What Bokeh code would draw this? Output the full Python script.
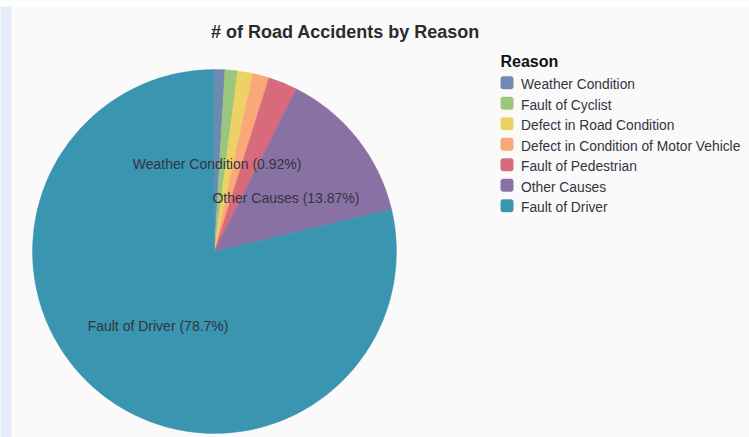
import numpy as np
from bokeh.plotting import figure
from bokeh.models import ColumnDataSource, Label, BoxAnnotation, Range1d
from bokeh.core.properties import value
from bokeh.embed import file_html
from bokeh.resources import INLINE

# ---- data ----
reasons = ["Weather Condition", "Fault of Cyclist", "Defect in Road Condition",
           "Defect in Condition of Motor Vehicle", "Fault of Pedestrian",
           "Other Causes", "Fault of Driver"]
shares = [0.92, 1.12, 1.35, 1.45, 2.59, 13.87, 78.70]
show_label = [True, False, False, False, False, True, True]
colors = ["#7189b1", "#9ac77b", "#ecd264", "#f9a877", "#d86a7b", "#8a71a4", "#3a95b1"]

title_text = "# of Road Accidents by Reason"
legend_title = "Reason"

# ---- layout ----
W, H = 749, 437
FONT = "Liberation Sans"
TXT = "#33343f"
cx, cy_px, R = 214, 251, 182
cy = H - cy_px

p = figure(width=W, height=H, x_range=Range1d(0, W), y_range=Range1d(0, H),
           output_backend="svg", toolbar_location=None, min_border=0,
           x_axis_location=None, y_axis_location=None,
           background_fill_color="#fafafa", border_fill_color="#fafafa",
           outline_line_color=None)
p.grid.visible = False

# page artifacts around the chart panel
p.add_layout(BoxAnnotation(left=0, right=11, bottom=0, top=H, fill_color="#e3ecf8",
                           fill_alpha=1, line_color=None))
p.add_layout(BoxAnnotation(left=0, right=W, bottom=H - 6, top=H, fill_color="#ffffff",
                           fill_alpha=1, line_color=None))

# ---- pie ----
vals = np.array(shares, dtype=float)
frac = vals / vals.sum()
cum = np.concatenate([[0.0], np.cumsum(frac)])
start = np.pi / 2 - 2 * np.pi * cum[:-1]
end = np.pi / 2 - 2 * np.pi * cum[1:]
mid = (cum[:-1] + cum[1:]) / 2 * 2 * np.pi  # clockwise from top

src = ColumnDataSource(dict(start=start, end=end, color=colors))
p.wedge(x=cx, y=cy, radius=R, radius_units="screen", start_angle="start",
        end_angle="end", direction="clock", fill_color="color",
        line_color="color", line_width=0.5, source=src)

lr = 0.5 * R
lab_x, lab_y, lab_t = [], [], []
for i, r in enumerate(reasons):
    if show_label[i]:
        lab_x.append(cx + lr * np.sin(mid[i]))
        lab_y.append(cy + lr * np.cos(mid[i]) - 3)
        lab_t.append(f"{r} ({shares[i]:g}%)")
p.text(x=lab_x, y=lab_y, text=lab_t, text_align="center", text_baseline="middle",
       text_font=value(FONT), text_font_size="14px", text_color=TXT)

# ---- title ----
p.add_layout(Label(x=345, y=H - 31, text=title_text, text_align="center",
                   text_baseline="middle", text_font=FONT, text_font_size="18px",
                   text_font_style="bold", text_color="#2b2b2b"))

# ---- legend ----
p.add_layout(Label(x=500, y=H - 61, text=legend_title, text_align="left",
                   text_baseline="middle", text_font=FONT, text_font_size="16px",
                   text_font_style="bold", text_color="#111111"))
idx = np.arange(len(reasons))
row_y = H - (84.3 + 20.5 * idx)
sw_top = H - (75.7 + 20.5 * idx)
p.quad(left=500, right=513, top=sw_top, bottom=sw_top - 13, fill_color=colors,
       line_color=None, border_radius=3)
p.text(x=520.5, y=row_y, text=reasons, text_align="left", text_baseline="middle",
       text_font=value(FONT), text_font_size="13.8px", text_color=TXT)

open("out.html", "w").write(file_html(p, INLINE))
